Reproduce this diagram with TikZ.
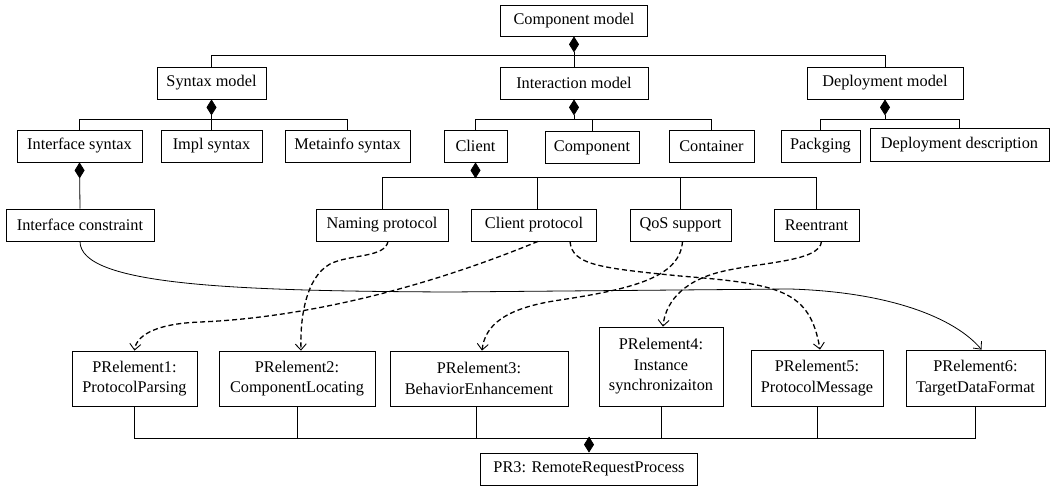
\documentclass[tikz,border=0pt]{standalone}
\usepackage{fontspec}
\setmainfont{Liberation Serif}
\usetikzlibrary{arrows.meta}
\begin{document}
\begin{tikzpicture}[x=1pt,y=-1pt,
  box/.style={draw, line width=0.8pt, inner sep=0pt, align=center, font=\fontsize{16.3}{20.5}\selectfont},
  link/.style={line width=0.8pt},
  agg/.style={line width=0.8pt, {Diamond[length=16pt,width=10pt]}-},
  flow/.style={line width=1.3pt, dash pattern=on 5pt off 3pt, -{Straight Barb[length=6pt,width=11pt,line width=0.9pt]}},
  assoc/.style={line width=0.8pt, -{Straight Barb[length=6pt,width=11pt,line width=0.8pt]}}]
\useasboundingbox (0,0) rectangle (1058,485);
\fill[white] (0,0) rectangle (1058,485);
% bar levels
\coordinate (bar1) at (0,55);
\coordinate (bar2) at (0,119);
\coordinate (bar3) at (0,177);
\coordinate (bar4) at (0,438);
% level 1
\node[box, minimum width=147pt, minimum height=31pt] (cm) at (574,20.5) {Component model};
% level 2
\node[box, minimum width=109pt, minimum height=32pt] (syn) at (211.5,83) {Syntax model};
\node[box, minimum width=148pt, minimum height=32pt] (int) at (574,83) {Interaction model};
\node[box, minimum width=156pt, minimum height=32pt] (dep) at (885,83) {Deployment model};
% level 3
\node[box, minimum width=125pt, minimum height=32pt] (ifs) at (79.5,146) {Interface syntax};
\node[box, minimum width=101pt, minimum height=32pt] (impl) at (211.5,146) {Impl syntax};
\node[box, minimum width=125pt, minimum height=32pt] (meta) at (347.5,146) {Metainfo syntax};
\node[box, minimum width=63pt, minimum height=32pt] (cli) at (475.5,146) {Client};
\node[box, minimum width=94pt, minimum height=32pt] (comp) at (592,147.5) {Component};
\node[box, minimum width=85pt, minimum height=32pt] (cont) at (711.5,146) {Container};
\node[box, minimum width=79pt, minimum height=32pt] (pack) at (820.5,146) {Packging};
\node[box, minimum width=179pt, minimum height=33pt] (ddesc) at (959.5,144.5) {Deployment description};
% level 4
\node[box, minimum width=148pt, minimum height=32pt] (ic) at (80,225) {Interface constraint};
\node[box, minimum width=132pt, minimum height=32pt] (np) at (382,225) {Naming protocol};
\node[box, minimum width=125pt, minimum height=32pt] (cp) at (534,225) {Client protocol};
\node[box, minimum width=101pt, minimum height=32pt] (qos) at (680.5,225) {QoS support};
\node[box, minimum width=85pt, minimum height=32pt] (re) at (816.5,225) {Reentrant};
% bottom
\node[box, minimum width=125pt, minimum height=55pt] (p1) at (134.5,378.5) {PRelement1:\\ProtocolParsing};
\node[box, minimum width=156pt, minimum height=55pt] (p2) at (297,378.5) {PRelement2:\\ComponentLocating};
\node[box, minimum width=178pt, minimum height=55pt] (p3) at (479,378.5) {PRelement3:\\BehaviorEnhancement};
\node[box, minimum width=124pt, minimum height=79pt] (p4) at (661,366.5) {PRelement4:\\Instance\\synchronizaiton};
\node[box, minimum width=132pt, minimum height=56pt] (p5) at (817,378) {PRelement5:\\ProtocolMessage};
\node[box, minimum width=139pt, minimum height=56pt] (p6) at (975.5,378) {PRelement6:\\TargetDataFormat};
\node[box, minimum width=217pt, minimum height=32pt] (pr3) at (589,469) {PR3: RemoteRequestProcess};
% aggregation trees
\draw[agg] (cm.south) -- (cm.south |- bar1);
\draw[link] (syn.north) -- (syn.north |- bar1) -| (dep.north);
\draw[link] (int.north) -- (int.north |- bar1);
\draw[agg] (syn.south) -- (syn.south |- bar2);
\draw[link] (ifs.north) -- (ifs.north |- bar2) -| (meta.north);
\draw[link] (impl.north) -- (impl.north |- bar2);
\draw[agg] (int.south) -- (int.south |- bar2);
\draw[link] (cli.north) -- (cli.north |- bar2) -| (cont.north);
\draw[link] (comp.north) -- (comp.north |- bar2);
\draw[agg] (dep.south) -- (dep.south |- bar2);
\draw[link] (pack.north) -- (pack.north |- bar2) -| (ddesc.north);
\draw[agg] (ifs.south) -- (ic.north);
\draw[agg] (cli.south) -- (cli.south |- bar3);
\draw[link] (np.north) -- (np.north |- bar3) -| (re.north);
\draw[link] ([xshift=3pt]cp.north) -- ([xshift=3pt]cp.north |- bar3);
\draw[link] (qos.north) -- (qos.north |- bar3);
\draw[agg] (pr3.north) -- (pr3.north |- bar4);
\draw[link] (p1.south) -- (p1.south |- bar4) -| (p6.south);
\draw[link] (p2.south) -- (p2.south |- bar4);
\draw[link] ([xshift=-3pt]p3.south) -- ([xshift=-3pt]p3.south |- bar4);
\draw[link] (p4.south) -- (p4.south |- bar4);
\draw[link] (p5.south) -- (p5.south |- bar4);
% curved links
\draw[assoc] (ic.south) .. controls (80,285) and (230,291) .. (450,292)
  -- (790,289) .. controls (890,292) and (955,318) .. ([xshift=6pt]p6.north);
\draw[flow] ([xshift=6pt]np.south) .. controls (385,258) and (350,254) .. (330,264)
  .. controls (305,278) and (300,320) .. ([xshift=4pt]p2.north);
\draw[flow] ([xshift=4pt]cp.south) .. controls (420,290) and (300,318) .. (200,322)
  .. controls (150,324) and (136,338) .. (p1.north);
\draw[flow] ([xshift=36pt]cp.south) .. controls (572,265) and (600,268) .. (680,276)
  .. controls (780,284) and (810,290) .. ([xshift=3pt]p5.north);
\draw[flow] ([xshift=2pt]qos.south) .. controls (680,275) and (640,288) .. (560,300)
  .. controls (505,308) and (485,325) .. ([xshift=3pt]p3.north);
\draw[flow] ([xshift=5pt]re.south) .. controls (820,262) and (760,262) .. (720,272)
  .. controls (680,282) and (665,305) .. ([xshift=2pt]p4.north);
\end{tikzpicture}
\end{document}
